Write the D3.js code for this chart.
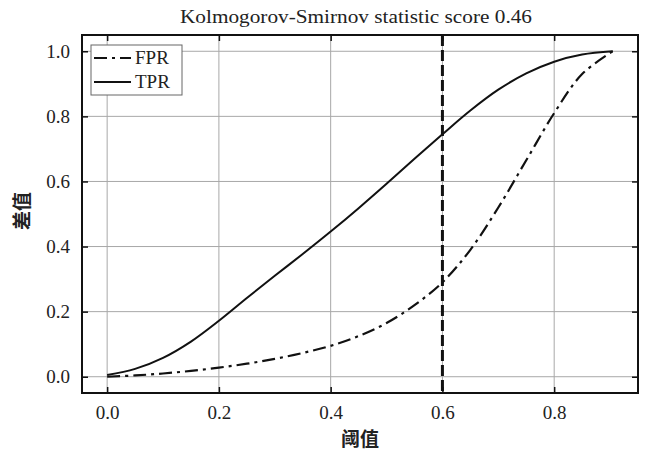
<!DOCTYPE html>
<html lang="zh">
<head>
    <meta charset="UTF-8">
    <title>KS curve</title>
    <script src="https://d3js.org/d3.v7.min.js"></script>
    <style>
        body { margin: 0; background: white; }
        .tick-label { font-family: "Liberation Serif", "DejaVu Serif", serif; font-size: 19px; fill: #222; }
        .cjk { font-family: "Noto Sans CJK SC", sans-serif; font-weight: bold; fill: #222; }
    </style>
</head>
<body>
<div id="chart"></div>
<script>
    // values
    const thresholds = [0, 0.05, 0.1, 0.15, 0.2, 0.25, 0.3, 0.35, 0.4, 0.45, 0.5, 0.55, 0.6, 0.65, 0.7, 0.75, 0.8, 0.85, 0.905];
    const fpr = [0, 0.004, 0.01, 0.018, 0.028, 0.04, 0.055, 0.073, 0.095, 0.125, 0.165, 0.22, 0.29, 0.39, 0.52, 0.665, 0.81, 0.93, 1.0];
    const tpr = [0.005, 0.024, 0.058, 0.108, 0.172, 0.242, 0.31, 0.377, 0.446, 0.518, 0.593, 0.67, 0.745, 0.818, 0.882, 0.932, 0.968, 0.99, 1.0];
    const xTicks = [0, 0.2, 0.4, 0.6, 0.8];
    const yTicks = [0, 0.2, 0.4, 0.6, 0.8, 1.0];
    const ksThreshold = 0.6;
    const title = "Kolmogorov-Smirnov statistic score 0.46";

    const width = 646, height = 453;
    const plot = {left: 82, right: 638, top: 35, bottom: 393};

    const svg = d3.select("#chart").append("svg")
        .attr("width", width)
        .attr("height", height);

    const x = d3.scaleLinear().domain([-0.045, 0.95]).range([plot.left, plot.right]);
    const y = d3.scaleLinear().domain([-0.05, 1.05]).range([plot.bottom, plot.top]);

    // grid
    svg.append("g").selectAll("line")
        .data(xTicks).enter().append("line")
        .attr("x1", d => x(d)).attr("x2", d => x(d))
        .attr("y1", plot.top).attr("y2", plot.bottom)
        .style("stroke", "#a8a8a8").style("stroke-width", 1);
    svg.append("g").selectAll("line")
        .data(yTicks).enter().append("line")
        .attr("x1", plot.left).attr("x2", plot.right)
        .attr("y1", d => y(d)).attr("y2", d => y(d))
        .style("stroke", "#a8a8a8").style("stroke-width", 1);

    const line = (vals) => d3.line()
        .x((d, i) => x(thresholds[i]))
        .y(d => y(d))
        .curve(d3.curveCatmullRom.alpha(0.5))(vals);

    svg.append("path")
        .attr("d", line(tpr))
        .style("fill", "none").style("stroke", "#111").style("stroke-width", 2);

    svg.append("path")
        .attr("d", line(fpr))
        .style("fill", "none").style("stroke", "#111").style("stroke-width", 2.2)
        .style("stroke-dasharray", "13,5,3,5");

    // KS threshold line
    svg.append("line")
        .attr("x1", x(ksThreshold)).attr("x2", x(ksThreshold))
        .attr("y1", plot.top).attr("y2", plot.bottom)
        .style("stroke", "#111").style("stroke-width", 3)
        .style("stroke-dasharray", "11,4");

    // axes with inward ticks on all sides
    const bottomAxis = d3.axisBottom(x).tickValues(xTicks).tickFormat(d3.format(".1f")).tickSizeInner(-6).tickSizeOuter(0).tickPadding(13);
    const leftAxis = d3.axisLeft(y).tickValues(yTicks).tickFormat(d3.format(".1f")).tickSizeInner(-6).tickSizeOuter(0).tickPadding(12);

    svg.append("g").attr("transform", "translate(0," + plot.bottom + ")").call(bottomAxis);
    svg.append("g").attr("transform", "translate(" + plot.left + ",0)").call(leftAxis);
    svg.append("g").attr("transform", "translate(0," + plot.top + ")")
        .call(d3.axisTop(x).tickValues(xTicks).tickFormat("").tickSizeInner(-6).tickSizeOuter(0));
    svg.append("g").attr("transform", "translate(" + plot.right + ",0)")
        .call(d3.axisRight(y).tickValues(yTicks).tickFormat("").tickSizeInner(-6).tickSizeOuter(0));

    svg.selectAll(".domain").remove();
    svg.selectAll(".tick line").style("stroke", "#111").style("stroke-width", 1.5);
    svg.selectAll(".tick text").attr("class", "tick-label").attr("font-family", null).attr("font-size", null);

    svg.append("rect")
        .attr("x", plot.left).attr("y", plot.top)
        .attr("width", plot.right - plot.left).attr("height", plot.bottom - plot.top)
        .style("fill", "none").style("stroke", "#111").style("stroke-width", 2);

    // legend
    const lg = svg.append("g");
    lg.append("rect")
        .attr("x", 91).attr("y", 45).attr("width", 91).attr("height", 50)
        .style("fill", "white").style("stroke", "#666").style("stroke-width", 1);
    const legendItems = [{name: "FPR", dash: "13,5,3,5", yy: 58}, {name: "TPR", dash: null, yy: 82}];
    legendItems.forEach(it => {
        lg.append("line")
            .attr("x1", 94).attr("x2", 131).attr("y1", it.yy).attr("y2", it.yy)
            .style("stroke", "#111").style("stroke-width", 2.2)
            .style("stroke-dasharray", it.dash);
        lg.append("text")
            .attr("class", "tick-label")
            .attr("x", 135).attr("y", it.yy + 6)
            .text(it.name);
    });

    // title and axis labels
    svg.append("text")
        .attr("class", "tick-label")
        .attr("x", 356).attr("y", 23)
        .attr("text-anchor", "middle")
        .attr("textLength", 352)
        .attr("lengthAdjust", "spacingAndGlyphs")
        .style("font-size", "19px")
        .text(title);

    svg.append("text")
        .attr("class", "cjk")
        .attr("x", 360).attr("y", 446)
        .attr("text-anchor", "middle")
        .style("font-size", "19px")
        .text("阈值");

    svg.append("text")
        .attr("class", "cjk")
        .attr("transform", "translate(29,211) rotate(-90)")
        .attr("text-anchor", "middle")
        .style("font-size", "19px")
        .text("差值");
</script>
</body>
</html>
